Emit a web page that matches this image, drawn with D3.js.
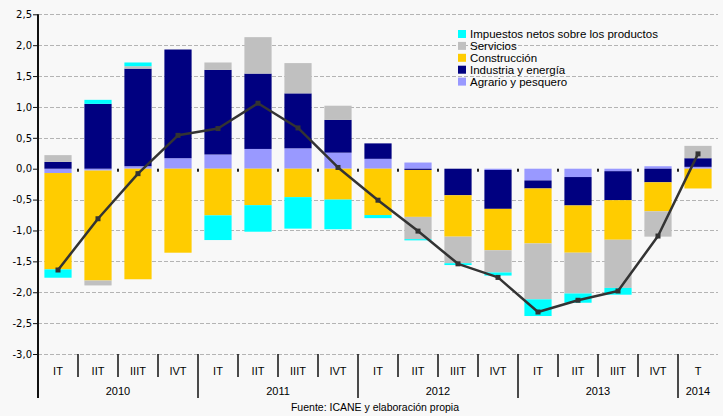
<!DOCTYPE html>
<html><head><meta charset="utf-8">
<script src="https://cdn.jsdelivr.net/npm/d3@7"></script>
<style>
html,body{margin:0;padding:0;background:#f8f8f8;}
svg{display:block;}
</style></head>
<body>
<svg id="chart" width="723" height="416"></svg>
<script>
// ---- data ----
const quarters = ["IT","IIT","IIIT","IVT","IT","IIT","IIIT","IVT","IT","IIT","IIIT","IVT","IT","IIT","IIIT","IVT","T"];
const years = ["2010","2011","2012","2013","2014"];
const yearSpans = [4,4,4,4,1];
const agrario     = [-0.07,-0.03, 0.04, 0.17, 0.23, 0.32, 0.33, 0.26, 0.16, 0.10, 0.00,-0.02,-0.19,-0.135,-0.04, 0.04, 0.03];
const industria   = [ 0.11, 1.05, 1.58, 1.76, 1.37, 1.22, 0.89, 0.53, 0.25,-0.02,-0.43,-0.63,-0.13,-0.46,-0.47,-0.22, 0.14];
const construccion= [-1.56,-1.78,-1.79,-1.36,-0.755,-0.59,-0.46,-0.50,-0.75,-0.76,-0.67,-0.67,-0.89,-0.765,-0.64,-0.47,-0.32];
const servicios   = [ 0.11,-0.08, 0.04, 0.00, 0.12, 0.59, 0.49, 0.23, 0.00,-0.36,-0.43,-0.36,-0.905,-0.66,-0.78,-0.41, 0.20];
const impuestos   = [-0.135,0.065,0.06, 0.00,-0.40,-0.43,-0.51,-0.48,-0.05,-0.02,-0.03,-0.05,-0.27,-0.15,-0.11, 0.00, 0.00];
const pib         = [-1.64,-0.81,-0.08, 0.54, 0.65, 1.06, 0.66, 0.02,-0.51,-1.01,-1.54,-1.76,-2.32,-2.13,-1.98,-1.09, 0.24];
const yTicks = [-3,-2.5,-2,-1.5,-1,-0.5,0,0.5,1,1.5,2,2.5];
const seriesKeys = ["agrario","industria","construccion","servicios","impuestos"];
const seriesNames = {
  impuestos:"Impuestos netos sobre los productos",
  servicios:"Servicios",
  construccion:"Construcción",
  industria:"Industria y energía",
  agrario:"Agrario y pesquero"
};
const colors = {agrario:"#9999ff", industria:"#000080", construccion:"#ffcc00", servicios:"#c0c0c0", impuestos:"#00ffff"};
const source = "Fuente: ICANE y elaboración propia";

// ---- build ----
const rows = quarters.map((q,i)=>({i, agrario:agrario[i], industria:industria[i], construccion:construccion[i], servicios:servicios[i], impuestos:impuestos[i]}));
const svg = d3.select("#chart");
svg.append("rect").attr("width",723).attr("height",416).attr("fill","#f8f8f8");

const x = d3.scaleBand().domain(d3.range(quarters.length)).range([38,718]).padding(0);
const y = d3.scaleLinear().domain([-3,2.5]).range([354,14.3]);
const barW = x.bandwidth()*0.68;
const locale = d3.formatLocale({decimal:",",thousands:".",grouping:[3],currency:["","€"],minus:"-"});
const fmt = locale.format(".1f");

// gridlines (no line at zero)
svg.append("g").selectAll("line").data(yTicks.filter(t=>t!==0)).join("line")
  .attr("x1",38).attr("x2",718).attr("y1",d=>Math.round(y(d))+0.5).attr("y2",d=>Math.round(y(d))+0.5)
  .attr("stroke","#b4b4b4").attr("stroke-width",1).attr("stroke-dasharray","4,2");

// small zero-axis ticks at category boundaries
svg.append("g").selectAll("rect").data(d3.range(1,quarters.length)).join("rect")
  .attr("x",d=>x(d)-1).attr("y",y(0)).attr("width",2).attr("height",3).attr("fill","#222");

// stacked bars
const stack = d3.stack().keys(seriesKeys).offset(d3.stackOffsetDiverging)(rows);
svg.append("g").selectAll("g").data(stack).join("g").attr("fill",d=>colors[d.key])
  .selectAll("rect").data(d=>d).join("rect")
  .attr("x",d=>x(d.data.i)+(x.bandwidth()-barW)/2)
  .attr("width",barW)
  .attr("y",d=>y(Math.max(d[0],d[1])))
  .attr("height",d=>Math.abs(y(d[0])-y(d[1])));

// line
const line = d3.line().x((d,i)=>x(i)+x.bandwidth()/2).y(d=>y(d));
svg.append("path").datum(pib).attr("d",line).attr("fill","none").attr("stroke","#333").attr("stroke-width",2.5).attr("stroke-linejoin","round");
svg.append("g").selectAll("rect").data(pib).join("rect")
  .attr("x",(d,i)=>x(i)+x.bandwidth()/2-2.5).attr("y",d=>y(d)-2.5).attr("width",5).attr("height",5).attr("fill","#333");

// y axis
const yAxis = d3.axisLeft(y).tickValues(yTicks).tickFormat(fmt).tickSizeInner(5).tickSizeOuter(0).tickPadding(1);
const ga = svg.append("g").attr("transform","translate(38,0)").call(yAxis);
ga.select(".domain").remove();
ga.selectAll(".tick line").attr("stroke","#111").attr("stroke-width",1);
ga.selectAll(".tick text").attr("font-family","DejaVu Sans, sans-serif").attr("font-size",10).attr("fill","#000");
svg.append("line").attr("x1",38).attr("x2",38).attr("y1",y(2.5)).attr("y2",398).attr("stroke","#111").attr("stroke-width",2);

// category axis
let cum = 0; const yearStarts = [];
yearSpans.forEach(s=>{yearStarts.push(cum); cum+=s;});
svg.append("g").selectAll("line").data(d3.range(1,quarters.length)).join("line")
  .attr("x1",d=>x(d)).attr("x2",d=>x(d)).attr("y1",354)
  .attr("y2",d=>yearStarts.includes(d)?398:377)
  .attr("stroke","#111").attr("stroke-width",1.5);
svg.append("g").selectAll("text").data(quarters).join("text")
  .attr("x",(d,i)=>x(i)+x.bandwidth()/2).attr("y",375).attr("text-anchor","middle")
  .attr("font-family","Liberation Sans, Arial, sans-serif").attr("font-size",11).text(d=>d);
svg.append("g").selectAll("text").data(years).join("text")
  .attr("x",(d,k)=>(x(yearStarts[k]) + x(yearStarts[k]+yearSpans[k]-1)+x.bandwidth())/2)
  .attr("y",395).attr("text-anchor","middle")
  .attr("font-family","Liberation Sans, Arial, sans-serif").attr("font-size",11).text(d=>d);

// legend
const legKeys = seriesKeys.slice().reverse();
const leg = svg.append("g").selectAll("g").data(legKeys).join("g")
  .attr("transform",(d,i)=>`translate(458,${30+i*11.9})`);
leg.append("rect").attr("width",8).attr("height",8).attr("fill",d=>colors[d]);
leg.append("text").attr("x",12).attr("y",8).attr("font-family","Liberation Sans, Arial, sans-serif")
  .attr("font-size",11.5).text(d=>seriesNames[d]);

// source
svg.append("text").attr("x",375).attr("y",411).attr("text-anchor","middle")
  .attr("font-family","Liberation Sans, Arial, sans-serif").attr("font-size",10.5).text(source);
</script>
</body></html>
